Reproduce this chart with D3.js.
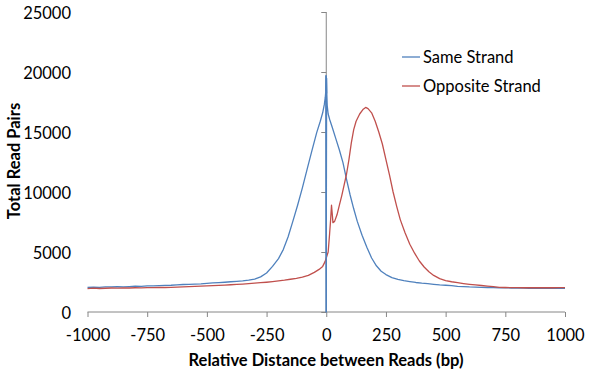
<!DOCTYPE html>
<html><head><meta charset="utf-8">
<script src="https://cdn.jsdelivr.net/npm/d3@7"></script>
<style>
html,body{margin:0;padding:0;background:#fff;}
text{font-family:Lato,"Open Sans",sans-serif;fill:#000;}
</style></head>
<body><svg id="c" width="590" height="377"></svg>
<script>
const xTicks = [-1000,-750,-500,-250,0,250,500,750,1000];
const yTicks = [0,5000,10000,15000,20000,25000];
const seriesNames = ["Same Strand","Opposite Strand"];

const sameX = [-1000,-975,-950,-925,-900,-875,-850,-825,-800,-775,-750,-725,-700,-675,-650,-625,-600,-575,-550,-525,-500,-475,-450,-425,-400,-375,-350,-325,-300,-275,-250,-225,-200,-180,-160,-140,-120,-100,-80,-60,-40,-25,-15,-8,-4,-2,-1,0,1,2,4,8,15,25,40,55,70,85,100,115,130,150,170,190,210,230,250,275,300,325,350,375,400,425,450,475,500,525,550,575,600,625,650,675,700,725,750,775,800,825,850,875,900,925,950,975,1000];
const sameY = [2050,2080,2060,2100,2090,2110,2100,2120,2150,2140,2170,2180,2200,2220,2230,2260,2290,2300,2330,2350,2390,2420,2450,2480,2520,2560,2600,2660,2740,2930,3250,3800,4450,5200,6250,7550,8900,10350,11900,13450,14950,15900,16600,17300,17900,18400,19700,0,19500,18200,17200,16500,16000,15400,14450,13500,12450,11050,9750,8600,7550,6400,5400,4500,3850,3400,3120,2870,2720,2620,2540,2460,2400,2360,2310,2260,2230,2200,2140,2120,2090,2080,2060,2040,2030,2020,2010,2000,1990,1990,1980,1980,1970,1980,1970,1970,1970];

const oppX = [-1000,-975,-950,-925,-900,-875,-850,-825,-800,-775,-750,-725,-700,-675,-650,-625,-600,-575,-550,-525,-500,-475,-450,-425,-400,-375,-350,-325,-300,-275,-250,-225,-200,-175,-150,-125,-100,-75,-50,-30,-15,-5,0,8,14,18,22,25,28,35,45,55,65,75,85,95,105,115,125,140,155,165,175,190,205,220,235,250,265,280,295,310,330,350,370,390,410,430,450,475,500,525,550,575,600,625,650,675,700,725,750,775,800,825,850,875,900,925,950,975,1000];
const oppY = [1950,1990,1960,1980,2000,1990,2010,2000,2020,2010,2030,2030,2050,2040,2060,2080,2090,2110,2130,2150,2170,2190,2220,2240,2270,2300,2330,2370,2400,2440,2480,2530,2590,2650,2730,2800,2900,3050,3300,3550,3800,4200,4500,5000,6500,7600,8900,8200,7450,7550,8100,8900,9700,10600,11500,12700,14100,15200,15900,16500,16900,17050,16950,16600,15900,15000,14000,12700,11400,10000,8800,7700,6600,5650,4900,4250,3750,3350,3050,2780,2620,2520,2440,2370,2310,2260,2210,2160,2110,2060,2040,2030,2030,2020,2030,2020,2030,2020,2020,2030,2030];

const colors = ["#4F81BD","#C0504D"];

const svg = d3.select("#c");
const x = d3.scaleLinear().domain([-1000,1000]).range([87.5,565]);
const y = d3.scaleLinear().domain([0,25000]).range([312,12]);
const axisColor = "#868686";
const fs = 16.5;

// x axis
const gx = svg.append("g").attr("transform","translate(0,312)")
  .call(d3.axisBottom(x).tickValues(xTicks).tickSize(5).tickFormat(d=>String(d)));
gx.select(".domain").attr("stroke",axisColor).attr("d",`M${x(-1000)},0H${x(1000)}`);
gx.selectAll(".tick line").attr("stroke",axisColor);
gx.selectAll("text").attr("font-size",fs).attr("font-family","Lato").attr("fill","#000")
  .attr("y",23).attr("dy","0.35em");

// y axis at x=0, labels at low side
const gy = svg.append("g").attr("transform",`translate(${x(0)},0)`)
  .call(d3.axisLeft(y).tickValues(yTicks).tickSize(5).tickFormat(""));
gy.select(".domain").attr("stroke",axisColor).attr("d",`M0,${y(0)}V${y(25000)}`);
gy.selectAll(".tick line").attr("stroke",axisColor);
svg.append("g").selectAll("text").data(yTicks).join("text")
  .attr("x",71).attr("y",d=>y(d)+1).attr("dy","0.35em").attr("text-anchor","end")
  .attr("font-size",fs).text(d=>String(d));

const line = d3.line().x(d=>x(d[0])).y(d=>y(d[1]));
const same = sameX.map((v,i)=>[v,sameY[i]]);
const opp = oppX.map((v,i)=>[v,oppY[i]]);
svg.append("path").datum(same).attr("d",line).attr("fill","none").attr("stroke",colors[0]).attr("stroke-width",1.3).attr("stroke-linejoin","round");
svg.append("path").datum(opp).attr("d",line).attr("fill","none").attr("stroke",colors[1]).attr("stroke-width",1.3).attr("stroke-linejoin","round");
// spike redraw on top
svg.append("path").datum(same.filter(d=>Math.abs(d[0])<=2)).attr("d",line).attr("fill","none").attr("stroke",colors[0]).attr("stroke-width",1.3);

// legend
const lg = svg.append("g");
seriesNames.forEach((n,i)=>{
  const yy = 57 + i*29;
  lg.append("line").attr("x1",402).attr("x2",420).attr("y1",yy).attr("y2",yy).attr("stroke",colors[i]).attr("stroke-width",1.3);
  lg.append("text").attr("x",423).attr("y",yy).attr("dy","0.35em").attr("font-size",fs).text(n);
});

// titles
svg.append("text").attr("x",326).attr("y",360).attr("dy","0.35em").attr("text-anchor","middle")
  .attr("font-size",16.5).attr("font-weight","bold").text("Relative Distance between Reads (bp)");
svg.append("text").attr("transform","translate(14,161) rotate(-90)").attr("dy","0.35em").attr("text-anchor","middle")
  .attr("font-size",16.5).attr("font-weight","bold").text("Total Read Pairs");
</script></body></html>
